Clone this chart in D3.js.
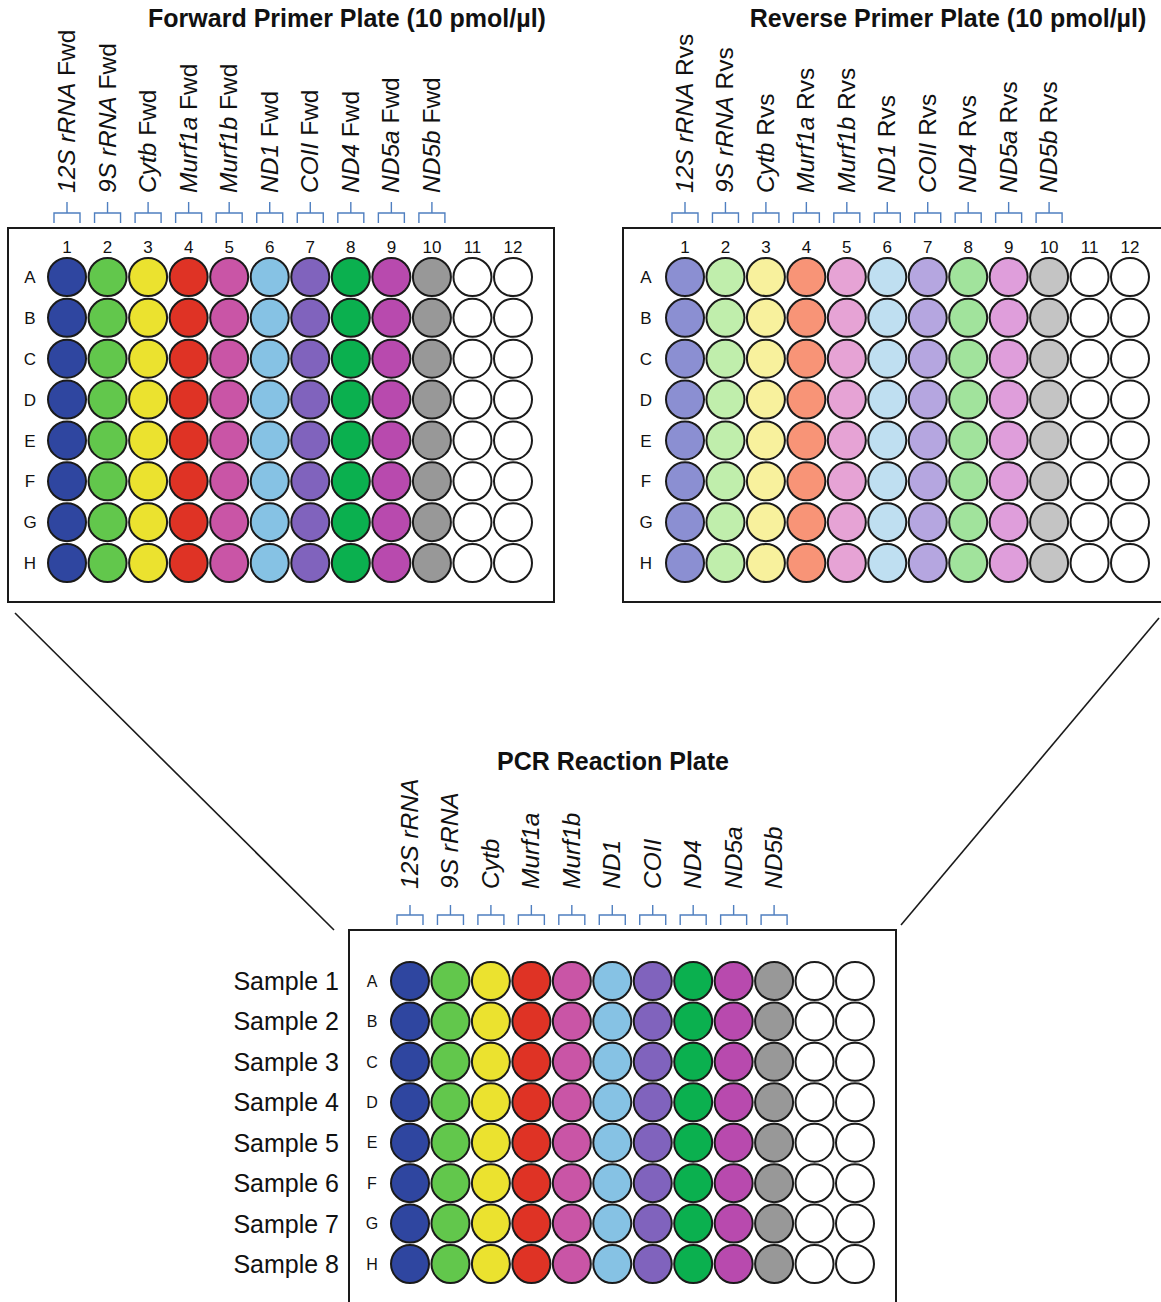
<!DOCTYPE html>
<html>
<head>
<meta charset="utf-8">
<script src="https://cdn.jsdelivr.net/npm/d3@7"></script>
<style>
  body { margin: 0; background: #fff; }
  svg { display: block; font-family: "Liberation Sans", Arial, Helvetica, sans-serif; }
  .title { font-weight: bold; font-size: 25px; fill: #111; }
  .gene { font-size: 24.5px; fill: #111; }
  .colnum, .rowname { font-size: 17px; fill: #111; }
  .sample { font-size: 25px; fill: #111; }
</style>
</head>
<body>
<div id="chart"></div>
<script>
// ---- data ----
const genes = ["12S rRNA", "9S rRNA", "Cytb", "Murf1a", "Murf1b", "ND1", "COII", "ND4", "ND5a", "ND5b"];
const rowNames = ["A", "B", "C", "D", "E", "F", "G", "H"];
const colNumbers = [1, 2, 3, 4, 5, 6, 7, 8, 9, 10, 11, 12];
const samples = ["Sample 1", "Sample 2", "Sample 3", "Sample 4", "Sample 5", "Sample 6", "Sample 7", "Sample 8"];
// well fill per column (columns 11 and 12 are empty)
const fwdColors = ["#2f46a0", "#62c74c", "#ebe22f", "#df3325", "#c955a6", "#86c2e4", "#8063bd", "#0bb04f", "#b84aae", "#989898", "#ffffff", "#ffffff"];
const rvsColors = ["#8b8fd2", "#c0eeac", "#f8f19d", "#f89477", "#e6a3d5", "#bfdff1", "#b5a6e0", "#a1e39c", "#df9edb", "#c4c4c4", "#ffffff", "#ffffff"];
const pcrColors = fwdColors;

const width = 1161, height = 1302;

const svg = d3.select("#chart").append("svg")
    .attr("width", width)
    .attr("height", height);

/**
 * Draws one 96-well plate with its title, gene labels and brackets.
 */
function drawPlate(opt) {
    let g = svg.append("g");

    let xScale = d3.scalePoint().domain(colNumbers).range(opt.xRange);
    let yScale = d3.scalePoint().domain(rowNames).range(opt.yRange);
    let colorScale = d3.scaleOrdinal().domain(colNumbers).range(opt.colors);
    let r = 20;

    //plate outline
    g.append("rect")
        .attr("x", opt.box[0])
        .attr("y", opt.box[1])
        .attr("width", opt.box[2] - opt.box[0])
        .attr("height", opt.box[3] - opt.box[1])
        .attr("fill", "none")
        .attr("stroke", "#1a1a1a")
        .attr("stroke-width", 2);

    //title
    g.append("text")
        .attr("class", "title")
        .attr("x", opt.titleX)
        .attr("y", opt.titleY)
        .attr("text-anchor", "middle")
        .text(opt.title);

    //column numbers
    if (opt.showCols) {
        g.selectAll(".colnum").data(colNumbers).enter().append("text")
            .attr("class", "colnum")
            .attr("x", d => xScale(d))
            .attr("y", opt.box[1] + 25)
            .attr("text-anchor", "middle")
            .text(d => d);
    }

    //row letters
    g.selectAll(".rowname").data(rowNames).enter().append("text")
        .attr("class", "rowname")
        .attr("x", opt.rowX)
        .attr("y", d => yScale(d))
        .attr("dy", "0.36em")
        .attr("text-anchor", "middle")
        .style("font-size", opt.rowFont + "px")
        .text(d => d);

    //wells
    let cells = [];
    rowNames.forEach(function(row){
        colNumbers.forEach(function(col){
            cells.push({row: row, col: col});
        });
    });
    g.selectAll(".well").data(cells).enter().append("circle")
        .attr("class", "well")
        .attr("cx", d => xScale(d.col))
        .attr("cy", d => yScale(d.row))
        .attr("r", r - 1)
        .attr("fill", d => colorScale(d.col))
        .attr("stroke", "#1a1a1a")
        .attr("stroke-width", 2);

    //brackets above the used columns
    let b = opt.bracket;
    g.selectAll(".bracket").data(genes).enter().append("path")
        .attr("class", "bracket")
        .attr("d", function(d, i){
            let x = xScale(colNumbers[i]);
            return "M" + (x - 13) + "," + b[2] + "V" + b[1] + "H" + (x + 13) + "V" + b[2] +
                   "M" + x + "," + b[1] + "V" + b[0];
        })
        .attr("fill", "none")
        .attr("stroke", "#4f7fc0")
        .attr("stroke-width", 1.4);

    //gene labels, rotated
    let labels = g.selectAll(".gene").data(genes).enter().append("text")
        .attr("class", "gene")
        .attr("transform", (d, i) => "translate(" + (xScale(colNumbers[i]) + 8) + "," + opt.labelY + ") rotate(-90)");
    labels.append("tspan")
        .style("font-style", "italic")
        .text(d => d);
    if (opt.suffix) {
        labels.append("tspan")
            .text(" " + opt.suffix);
    }

    return {x: xScale, y: yScale};
}

drawPlate({
    title: "Forward Primer Plate (10 pmol/\u00b5l)", titleX: 347, titleY: 27,
    box: [8, 228, 554, 602], xRange: [67, 513], yRange: [277, 563],
    colors: fwdColors, suffix: "Fwd", labelY: 193, bracket: [202, 213, 223],
    rowX: 30, rowFont: 17, showCols: true
});

drawPlate({
    title: "Reverse Primer Plate (10 pmol/\u00b5l)", titleX: 948, titleY: 27,
    box: [623, 228, 1172, 602], xRange: [685, 1130], yRange: [277, 563],
    colors: rvsColors, suffix: "Rvs", labelY: 193, bracket: [202, 213, 223],
    rowX: 646, rowFont: 17, showCols: true
});

let pcr = drawPlate({
    title: "PCR Reaction Plate", titleX: 613, titleY: 770,
    box: [349, 930, 896, 1312], xRange: [410, 855], yRange: [981, 1264],
    colors: pcrColors, suffix: null, labelY: 889, bracket: [905, 915, 925],
    rowX: 372, rowFont: 16, showCols: false
});

//sample names next to the PCR plate rows
svg.selectAll(".sample").data(samples).enter().append("text")
    .attr("class", "sample")
    .attr("x", 339)
    .attr("y", (d, i) => pcr.y(rowNames[i]))
    .attr("dy", "0.36em")
    .attr("text-anchor", "end")
    .text(d => d);

//lines linking the primer plates to the reaction plate
let links = [[15, 613, 334, 930], [1159, 618, 901, 925]];
svg.selectAll(".link").data(links).enter().append("line")
    .attr("class", "link")
    .attr("x1", d => d[0]).attr("y1", d => d[1])
    .attr("x2", d => d[2]).attr("y2", d => d[3])
    .attr("stroke", "#1a1a1a")
    .attr("stroke-width", 1.6);
</script>
</body>
</html>
